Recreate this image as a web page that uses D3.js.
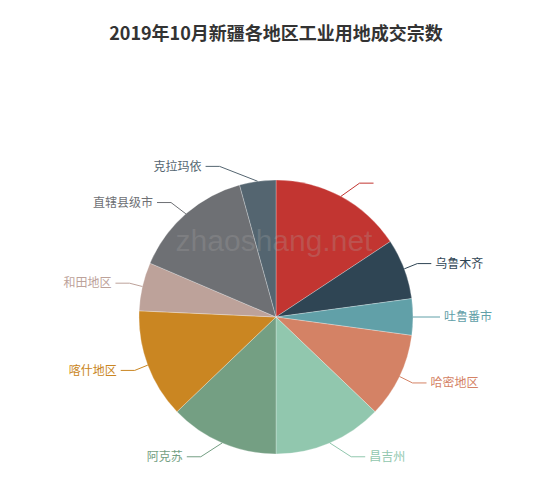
<!DOCTYPE html>
<html>
<head>
<meta charset="utf-8">
<script src="https://cdn.jsdelivr.net/npm/d3@7"></script>
<style>
  body { margin: 0; background: #fff; }
  svg { display: block; font-family: "Noto Sans CJK SC", "Noto Sans", sans-serif; }
</style>
</head>
<body>
<svg id="chart" width="550" height="490"></svg>
<script>
// 2019年10月新疆各地区工业用地成交宗数
var regions = ["", "乌鲁木齐", "吐鲁番市", "哈密地区", "昌吉州", "阿克苏", "喀什地区", "和田地区", "直辖县级市", "克拉玛依"];
var counts  = [11, 5, 3, 7, 9, 9, 9, 4, 10, 3];
var palette = ["#c23531", "#2f4554", "#61a0a8", "#d48265", "#91c7ae", "#749f83", "#ca8622", "#bda29a", "#6e7074", "#546570"];

var svg = d3.select("#chart"),
    width = +svg.attr("width"),
    height = +svg.attr("height");

var cx = 276, cy = 317,
    radius = 137,
    len1 = 15,      // first leg of the label line
    textR = 168,    // labels sit on this circle
    len2 = 18;      // horizontal leg

svg.append("text")
    .attr("x", width / 2 + 1)
    .attr("y", 40)
    .attr("text-anchor", "middle")
    .attr("font-size", 18)
    .attr("font-weight", "bold")
    .attr("fill", "#333")
    .text("2019年10月新疆各地区工业用地成交宗数");

var data = regions.map(function(d, i) { return { name: d, value: counts[i], color: palette[i] }; });

var pie = d3.pie().sort(null).value(function(d) { return d.value; });
var arc = d3.arc().innerRadius(0).outerRadius(radius);

var g = svg.append("g").attr("transform", "translate(" + cx + "," + cy + ")");

var arcs = pie(data);

g.selectAll(".slice")
    .data(arcs)
    .enter().append("path")
      .attr("class", "slice")
      .attr("d", arc)
      .attr("fill", function(d) { return d.data.color; })
      .attr("stroke", "rgba(255,255,255,0.45)")
      .attr("stroke-width", 0.6);

// label lines and labels
arcs.forEach(function(d) {
    var a = (d.startAngle + d.endAngle) / 2;
    var sx = Math.sin(a), sy = -Math.cos(a);
    var dir = sx >= 0 ? 1 : -1;
    var y = (radius + len1) * sy;
    var dy = Math.abs(y);
    var tx = dir * Math.sqrt(Math.max(textR * textR - dy * dy, 0));
    var elbowX = tx - dir * len2;
    var endX = tx - dir * 4;

    g.append("polyline")
        .attr("points", [[radius * sx, radius * sy], [elbowX, y], [endX, y]].map(function(p) { return p.join(","); }).join(" "))
        .attr("fill", "none")
        .attr("stroke", d.data.color)
        .attr("stroke-width", 1);

    g.append("text")
        .attr("x", tx)
        .attr("y", y)
        .attr("dy", "0.35em")
        .attr("text-anchor", dir > 0 ? "start" : "end")
        .attr("font-size", 12)
        .attr("fill", d.data.color)
        .text(d.data.name);
});

// watermark
svg.append("text")
    .attr("x", 274)
    .attr("y", 251)
    .attr("text-anchor", "middle")
    .attr("font-family", "Liberation Sans, Arial, sans-serif")
    .attr("font-size", 30)
    .attr("fill", "rgba(170,170,170,0.25)")
    .text("zhaoshang.net");
</script>
</body>
</html>
